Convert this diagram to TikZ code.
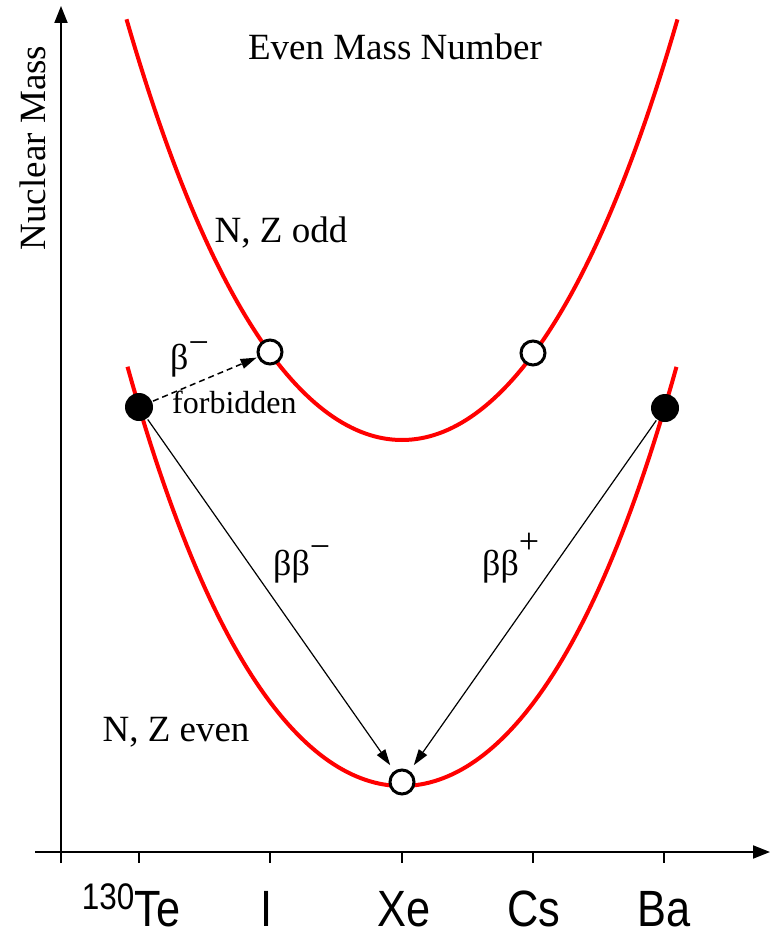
\documentclass[tikz,border=0pt]{standalone}
\usepackage{fontspec}
\setmainfont{Liberation Serif}
\newfontfamily\axisfont[FakeStretch=0.85]{Liberation Sans}
\usetikzlibrary{arrows.meta}
\begin{document}
\begin{tikzpicture}[x=1pt,y=-1pt,
  curveline/.style={draw=red, line width=4pt, line join=round},
  axisline/.style={line width=2pt, -{Triangle[length=17pt,width=13pt]}},
  axtick/.style={line width=1.6pt},
  fulldot/.style={circle, fill=black, minimum size=28pt, inner sep=0pt},
  opendot/.style={circle, draw=black, fill=white, line width=3pt, minimum size=24pt, inner sep=0pt},
  decay/.style={line width=1.2pt, -{Triangle[length=16pt,width=10pt]}, shorten >=7pt, shorten <=1pt},
  txt/.style={inner sep=0pt, anchor=base, font=\fontsize{37}{40}\selectfont},
  greek/.style={inner sep=0pt, anchor=base west, font=\fontsize{36}{40}\selectfont},
  elem/.style={inner sep=0pt, anchor=base, font=\axisfont\fontsize{51}{56}\selectfont}]
\useasboundingbox (0,0) rectangle (778,931);

% axes
\coordinate (xs) at (35,852);
\coordinate (xe) at (770,852);
\coordinate (ys) at (61,863);
\coordinate (ye) at (61,6);
\draw[axisline] (xs) -- (xe);
\draw[axisline] (ys) -- (ye);
\foreach \x/\n in {139/t1,270/t2,402/t3,533/t4,664/t5}{
  \coordinate (\n a) at (\x,852);
  \coordinate (\n b) at (\x,863);
  \draw[axtick] (\n a) -- (\n b);
}

% axis labels
\node[elem] (lTe) at (131,926) {\raisebox{17pt}{\fontsize{37}{40}\selectfont 130}Te};
\node[elem] (lI) at (267,926) {I};
\node[elem] (lXe) at (404,926) {Xe};
\node[elem] (lCs) at (534,926) {Cs};
\node[elem] (lBa) at (664,926) {Ba};

\node[txt, rotate=90] (ylab) at (45,148) {Nuclear Mass};
\node[txt] (title) at (395,60) {Even Mass Number};
\node[txt] (odd) at (281,242) {N, Z odd};
\node[txt] (even) at (176,741) {N, Z even};

% curves (N,Z odd above; N,Z even below)
\draw[curveline] plot[domain=-2.755:2.755, samples=121]
  ({402+100*\x},{440-48.29*\x*\x-0.941*\x*\x*\x*\x});
\draw[curveline] plot[domain=-2.745:2.745, samples=121]
  ({402+100*\x},{786-46*\x*\x-1.28*\x*\x*\x*\x});

% nuclei
\node[fulldot] (Te) at (139,407) {};
\node[fulldot] (Ba) at (665,408) {};
\node[opendot] (I) at (270,352) {};
\node[opendot] (Cs) at (533,353) {};
\node[opendot] (Xe) at (402,782) {};

% decays
\draw[decay, dashed, dash pattern=on 6pt off 4pt, line width=1.5pt, shorten >=1pt] (Te) -- (I);
\draw[decay] (Te) -- (Xe);
\draw[decay] (Ba) -- (Xe);

\node[greek] (bm) at (170,369) {β\raisebox{15pt}{−}};
\node[inner sep=0pt, anchor=base west, font=\fontsize{32}{36}\selectfont] (forb) at (172,413) {forbidden};
\node[greek] (bbm) at (273,575) {ββ\raisebox{17pt}{−}};
\node[greek] (bbp) at (482,575) {ββ\raisebox{22pt}{+}};
\end{tikzpicture}
\end{document}
